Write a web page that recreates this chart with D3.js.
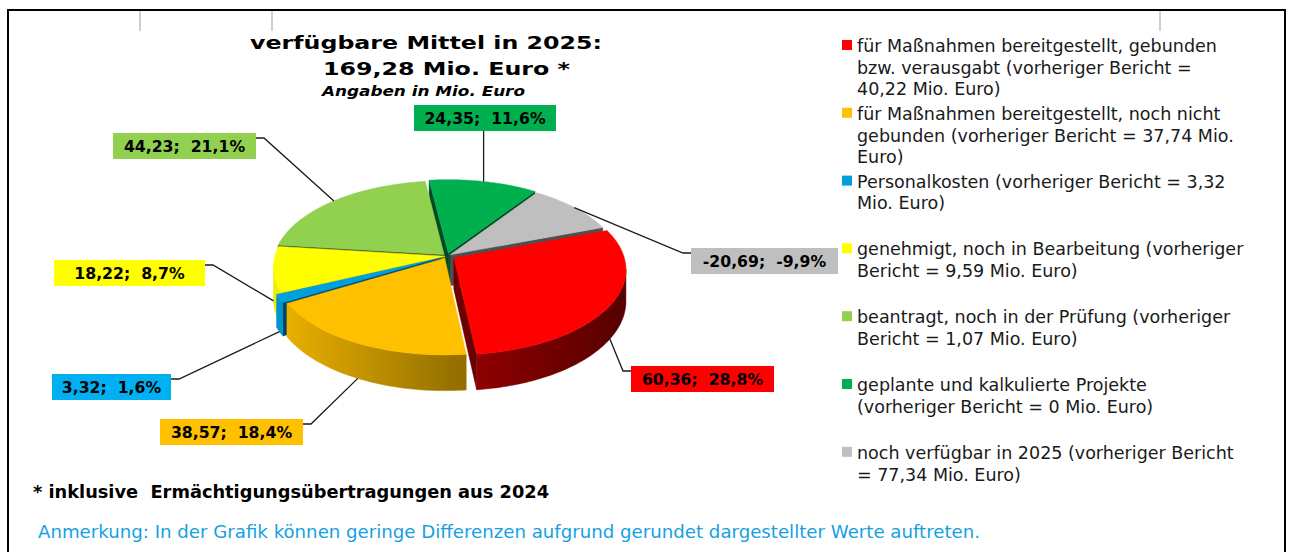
<!DOCTYPE html>
<html>
<head>
<meta charset="UTF-8" />
<title>verfügbare Mittel in 2025</title>
<script src="https://d3js.org/d3.v7.min.js"></script>
<style>
  body { margin: 0; background: #fff; }
  svg text { font-family: "DejaVu Sans", Verdana, sans-serif; }
</style>
</head>
<body>
<div id="chart"></div>
<script>
// ---- data ----
var categories = [
  "für Maßnahmen bereitgestellt, gebunden bzw. verausgabt",
  "für Maßnahmen bereitgestellt, noch nicht gebunden",
  "Personalkosten",
  "genehmigt, noch in Bearbeitung",
  "beantragt, noch in der Prüfung",
  "geplante und kalkulierte Projekte",
  "noch verfügbar in 2025"
];
var values = [60.36, 38.57, 3.32, 18.22, 44.23, 24.35, -20.69];
var colors = ["#ff0000", "#ffc000", "#00a0e0", "#ffff00", "#92d050", "#00b050", "#bfbfbf"];
var labelColors = ["#ff0000", "#ffc000", "#00b0f0", "#ffff00", "#92d050", "#00b050", "#bfbfbf"];
var legendLines = [
  ["für Maßnahmen bereitgestellt, gebunden", "bzw. verausgabt (vorheriger Bericht =", "40,22 Mio. Euro)"],
  ["für Maßnahmen bereitgestellt, noch nicht", "gebunden (vorheriger Bericht = 37,74 Mio.", "Euro)"],
  ["Personalkosten (vorheriger Bericht = 3,32", "Mio. Euro)"],
  ["genehmigt, noch in Bearbeitung (vorheriger", "Bericht = 9,59 Mio. Euro)"],
  ["beantragt, noch in der Prüfung (vorheriger", "Bericht = 1,07 Mio. Euro)"],
  ["geplante und kalkulierte Projekte", "(vorheriger Bericht = 0 Mio. Euro)"],
  ["noch verfügbar in 2025 (vorheriger Bericht", "= 77,34 Mio. Euro)"]
];
var titleLines = ["verfügbare Mittel in 2025:", "169,28 Mio. Euro *", "Angaben in Mio. Euro"];
var footnote = "* inklusive  Ermächtigungsübertragungen aus 2024";
var note = "Anmerkung: In der Grafik können geringe Differenzen aufgrund gerundet dargestellter Werte auftreten.";

// ---- layout ----
var W = 1291, H = 552;
var cx = 447, cy = 256, rx = 170, ry = 83.6, persp = 0.129, depth = 31;
var startDeg = 70;
var explode = [8, 5, 7, 2, 4, 6, 4];
// label boxes: x, y, width (manual placement like the original)
var labelBox = [[631, 366, 143], [160, 419, 143], [52, 374, 119], [54, 260, 151],
                [113, 133, 143], [414, 105, 142], [691, 248, 147]];

var svg = d3.select("#chart").append("svg")
  .attr("width", W).attr("height", H);

svg.append("rect").attr("width", W).attr("height", H).attr("fill", "#fff");

// frame + grey marks at the top
svg.append("path")
  .attr("d", "M8,560V10H1285V560")
  .attr("fill", "none").attr("stroke", "#000").attr("stroke-width", 2);
[140, 272, 1160].forEach(function(x) {
  svg.append("line").attr("x1", x).attr("x2", x).attr("y1", 11).attr("y2", 31)
    .attr("stroke", "#cfcfcf").attr("stroke-width", 2);
});

// title
svg.append("text").attr("x", 250).attr("y", 48.7)
  .attr("textLength", 352).attr("lengthAdjust", "spacingAndGlyphs")
  .style("font-size", "18.5px").style("font-weight", "bold").attr("fill", "#000")
  .text(titleLines[0]);
svg.append("text").attr("x", 323).attr("y", 75.3)
  .attr("textLength", 247).attr("lengthAdjust", "spacingAndGlyphs")
  .style("font-size", "18.5px").style("font-weight", "bold").attr("fill", "#000")
  .text(titleLines[1]);
svg.append("text").attr("x", 322).attr("y", 96)
  .attr("textLength", 203).attr("lengthAdjust", "spacingAndGlyphs")
  .style("font-size", "13.5px").style("font-weight", "bold").style("font-style", "italic")
  .attr("fill", "#000")
  .text(titleLines[2]);

// ---- pie ----
var total = d3.sum(values, function(v) { return Math.abs(v); });
var pie = d3.pie()
  .sort(null)
  .value(function(d) { return Math.abs(d); })
  .startAngle(startDeg * Math.PI / 180)
  .endAngle(startDeg * Math.PI / 180 + 2 * Math.PI);
var arcs = pie(values);

function shade(c, f) {
  var r = d3.rgb(c);
  return d3.rgb(r.r * f, r.g * f, r.b * f).toString();
}

// plane (u,v) -> screen, simple perspective (front is bigger)
function proj(u, v, z) {
  var s = 1 / (1 - persp * v);
  return [cx + rx * u * s, cy + ry * v * s + z * s];
}

var defs = svg.append("defs");
var blur = defs.append("filter").attr("id", "soft")
  .attr("x", "-5%").attr("y", "-5%").attr("width", "110%").attr("height", "110%");
blur.append("feGaussianBlur").attr("stdDeviation", 0.55);

colors.forEach(function(c, i) {
  var g = defs.append("linearGradient").attr("id", "wall" + i)
    .attr("gradientUnits", "userSpaceOnUse")
    .attr("x1", cx - rx).attr("x2", cx + rx).attr("y1", 0).attr("y2", 0);
  g.append("stop").attr("offset", 0).attr("stop-color", shade(c, 0.93));
  g.append("stop").attr("offset", 0.5).attr("stop-color", shade(c, 0.6));
  g.append("stop").attr("offset", 1).attr("stop-color", shade(c, 0.35));
});

var slices = arcs.map(function(d, i) {
  var m = (d.startAngle + d.endAngle) / 2;
  var e = explode[i] / rx;
  var ou = e * Math.sin(m), ov = -e * Math.cos(m);
  return {
    i: i, a0: d.startAngle, a1: d.endAngle, mid: m, ou: ou, ov: ov,
    pt: function(a, z) { return proj(ou + Math.sin(a), ov - Math.cos(a), z); },
    vx: function(z) { return proj(ou, ov, z); }
  };
});

function samples(a, b) {
  var n = Math.max(2, Math.ceil((b - a) / 0.02));
  return d3.range(n + 1).map(function(k) { return a + (b - a) * k / n; });
}

var line = d3.line();
var faces = [];
var lo = Math.PI / 2 + Math.asin(persp), hi = 3 * Math.PI / 2 - Math.asin(persp);

slices.forEach(function(s) {
  // outer wall, visible front part
  [0, 2 * Math.PI].forEach(function(shift) {
    var a = Math.max(s.a0, lo + shift), b = Math.min(s.a1, hi + shift);
    if (b <= a) return;
    var as = samples(a, b);
    var top = as.map(function(t) { return s.pt(t, 0); });
    var bot = as.slice().reverse().map(function(t) { return s.pt(t, depth); });
    faces.push({
      d: line(top.concat(bot)) + "Z",
      fill: "url(#wall" + s.i + ")",
      key: s.ov + d3.mean(as, function(t) { return -Math.cos(t); })
    });
  });
  // cut faces
  var dark = shade(colors[s.i], 0.42);
  if (Math.sin(s.a0) < 0) {
    faces.push({
      d: line([s.vx(0), s.pt(s.a0, 0), s.pt(s.a0, depth), s.vx(depth)]) + "Z",
      fill: dark, key: s.ov - Math.cos(s.a0) / 2
    });
  }
  if (Math.sin(s.a1) > 0) {
    faces.push({
      d: line([s.vx(0), s.pt(s.a1, 0), s.pt(s.a1, depth), s.vx(depth)]) + "Z",
      fill: dark, key: s.ov - Math.cos(s.a1) / 2
    });
  }
});
faces.sort(function(a, b) { return a.key - b.key; });

var pieG = svg.append("g").attr("filter", "url(#soft)");
pieG.selectAll("path.side")
  .data(faces).enter().append("path")
  .attr("class", "side")
  .attr("d", function(f) { return f.d; })
  .attr("fill", function(f) { return f.fill; })
  .attr("stroke", function(f) { return f.fill; })
  .attr("stroke-width", 0.5);

pieG.selectAll("path.top")
  .data(slices).enter().append("path")
  .attr("class", "top")
  .attr("d", function(s) {
    var pts = [s.vx(0)].concat(samples(s.a0, s.a1).map(function(t) { return s.pt(t, 0); }));
    return line(pts) + "Z";
  })
  .attr("fill", function(s) { return colors[s.i]; })
  .attr("stroke", function(s) { return colors[s.i]; })
  .attr("stroke-width", 0.5);

// ---- data labels with leader lines ----
var num = function(v) { return d3.format(".2f")(v).replace("\u2212", "-").replace(".", ","); };
var pct = function(v) { return d3.format(".1f")(v / total * 100).replace("\u2212", "-").replace(".", ",") + "%"; };

slices.forEach(function(s) {
  var b = labelBox[s.i];
  var front = -Math.cos(s.mid) + s.ov > 0;
  var anchor = s.pt(s.mid, front ? depth : 0);
  var pts;
  if (anchor[0] > b[0] + b[2]) {
    pts = [[b[0] + b[2], b[1] + 5], [b[0] + b[2] + 8, b[1] + 5], anchor];
  } else if (anchor[0] < b[0]) {
    pts = [[b[0], b[1] + 5], [b[0] - 8, b[1] + 5], anchor];
  } else {
    pts = [[anchor[0], b[1] + 26], anchor];
  }
  svg.append("path").attr("d", line(pts))
    .attr("fill", "none").attr("stroke", "#1a1a1a").attr("stroke-width", 1.3);

  svg.append("rect").attr("x", b[0]).attr("y", b[1])
    .attr("width", b[2]).attr("height", 26)
    .attr("fill", labelColors[s.i]);
  svg.append("text")
    .attr("x", b[0] + b[2] / 2).attr("y", b[1] + 19)
    .attr("text-anchor", "middle")
    .style("font-size", "15.7px").style("font-weight", "bold").style("white-space", "pre")
    .attr("fill", "#000")
    .text(num(values[s.i]) + ";  " + pct(values[s.i]));
});

// ---- legend ----
var legend = svg.append("g");
legendLines.forEach(function(lines, i) {
  var y0 = 52 + i * 67.8;
  legend.append("rect").attr("x", 842).attr("y", y0 - 12)
    .attr("width", 10).attr("height", 10).attr("fill", colors[i]);
  var t = legend.append("text").attr("x", 857).attr("y", y0)
    .style("font-size", "17.5px").attr("fill", "#1a1a1a");
  lines.forEach(function(l, k) {
    t.append("tspan").attr("x", 857).attr("y", y0 + k * 21.7).text(l);
  });
});

// ---- footnotes ----
svg.append("text").attr("x", 33).attr("y", 497.7)
  .attr("textLength", 516).attr("lengthAdjust", "spacingAndGlyphs")
  .style("font-size", "17px").style("font-weight", "bold").style("white-space", "pre")
  .attr("fill", "#000")
  .text(footnote);
svg.append("text").attr("x", 38).attr("y", 538.3)
  .attr("textLength", 942).attr("lengthAdjust", "spacingAndGlyphs")
  .style("font-size", "17px")
  .attr("fill", "#169fe3")
  .text(note);
</script>
</body>
</html>
